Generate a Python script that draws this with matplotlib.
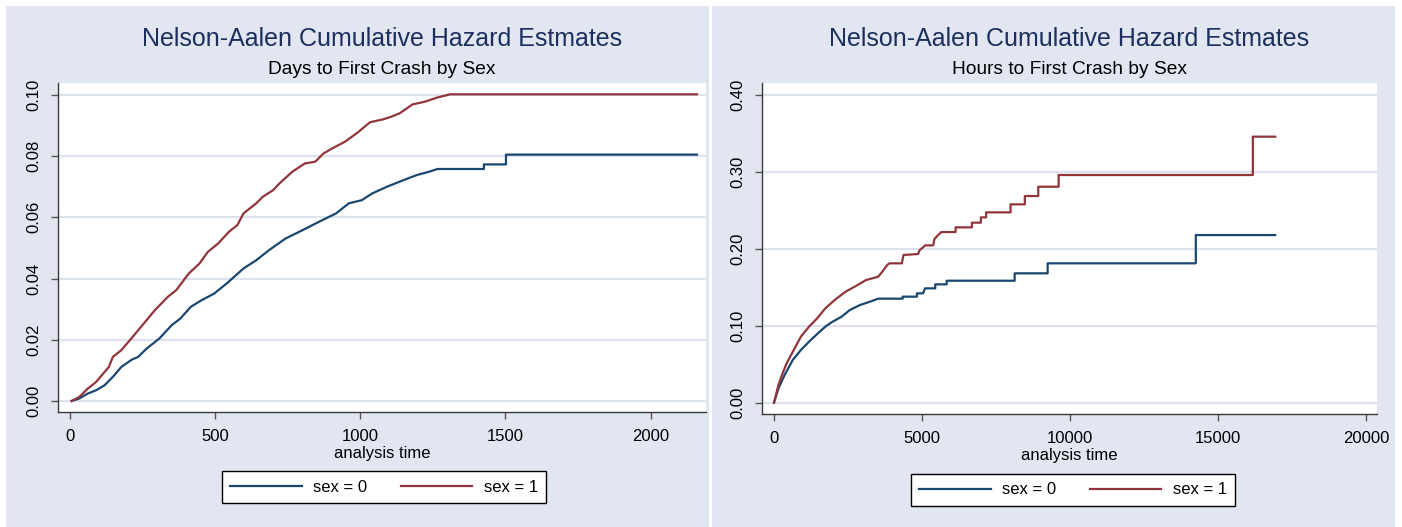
import matplotlib
matplotlib.use("Agg")
import matplotlib.pyplot as plt
from matplotlib.patches import Rectangle

plt.rcParams['font.family'] = ['Liberation Sans Narrow', 'Liberation Sans', 'DejaVu Sans']

# data (time, cumulative hazard); repeated times = step jumps
days_sex1_t = [6, 32, 61, 90, 134, 148, 177, 206, 235, 264, 293, 337, 366, 410, 446, 475,
               511, 548, 577, 598, 642, 664, 700, 722, 766, 809, 845, 874, 903, 947, 991,
               1034, 1078, 1107, 1136, 1180, 1223, 1267, 1310, 2160]
days_sex1_h = [0.0, 0.0013, 0.0040, 0.0062, 0.0111, 0.0144, 0.0166, 0.0198, 0.0231, 0.0264,
               0.0297, 0.0340, 0.0362, 0.0417, 0.0449, 0.0487, 0.0515, 0.0553, 0.0575, 0.0613,
               0.0646, 0.0667, 0.0689, 0.0711, 0.0749, 0.0776, 0.0782, 0.0809, 0.0825, 0.0847,
               0.0877, 0.0911, 0.0920, 0.0929, 0.0940, 0.0969, 0.0978, 0.0992, 0.1002, 0.1002]
days_sex0_t = [6, 32, 61, 90, 119, 148, 177, 213, 235, 264, 308, 351, 380, 417, 453, 497,
               540, 598, 642, 686, 743, 801, 859, 917, 961, 1005, 1041, 1092, 1150, 1194,
               1237, 1266, 1426, 1426, 1502, 1502, 2160]
days_sex0_h = [0.0, 0.0008, 0.0024, 0.0035, 0.0051, 0.0079, 0.0111, 0.0135, 0.0144, 0.0171,
               0.0204, 0.0248, 0.0269, 0.0308, 0.0329, 0.0351, 0.0384, 0.0433, 0.0460, 0.0493,
               0.0531, 0.0558, 0.0586, 0.0613, 0.0646, 0.0656, 0.0678, 0.0700, 0.0722, 0.0738,
               0.0749, 0.0758, 0.0758, 0.0773, 0.0773, 0.0805, 0.0805]

hours_sex1_t = [0, 151, 289, 426, 633, 908, 1183, 1458, 1733, 2077, 2421, 2765, 3109, 3521,
                3659, 3824, 3906, 4319, 4374, 4869, 4924, 5034, 5103, 5378, 5420, 5543, 5653,
                6135, 6135, 6685, 6685, 6988, 6988, 7166, 7166, 7992, 7992, 8473, 8473, 8927,
                8927, 9615, 9615, 16176, 16176, 16932]
hours_sex1_h = [0.0, 0.023, 0.038, 0.051, 0.066, 0.0857, 0.0987, 0.1095, 0.1225, 0.1342,
                0.1442, 0.1515, 0.1593, 0.1636, 0.1701, 0.1788, 0.181, 0.181, 0.1918, 0.1931,
                0.1983, 0.2017, 0.2043, 0.2043, 0.2126, 0.2177, 0.2216, 0.2216, 0.2277, 0.2277,
                0.2338, 0.2338, 0.2407, 0.2407, 0.2472, 0.2472, 0.2576, 0.2576, 0.2684, 0.2684,
                0.2805, 0.2805, 0.2957, 0.2957, 0.3455, 0.3455]
hours_sex0_t = [0, 151, 358, 633, 908, 1183, 1458, 1733, 1940, 2284, 2559, 2902, 3246, 3521,
                4347, 4347, 4828, 4828, 5034, 5103, 5447, 5447, 5832, 5832, 8129, 8129, 9244,
                9244, 14250, 14250, 16932]
hours_sex0_h = [0.0, 0.0186, 0.0359, 0.0554, 0.0684, 0.0792, 0.0892, 0.0987, 0.1043, 0.1117,
                0.1203, 0.1268, 0.1312, 0.1351, 0.1351, 0.1377, 0.1377, 0.1420, 0.1420, 0.1485,
                0.1485, 0.1537, 0.1537, 0.1584, 0.1584, 0.1680, 0.1680, 0.1810, 0.1810, 0.2177,
                0.2177]

legend_labels = ["sex = 0", "sex = 1"]

NAVY = "#1a476f"
MAROON = "#90353b"
PANEL = "#e1e6f0"
GRID = "#dce2ee"
TITLE_C = "#1c2f5e"

W, H = 1402, 527
fig = plt.figure(figsize=(W / 100, H / 100), dpi=100, facecolor="white")

# panel backgrounds
for x0, x1 in [(6, 709), (712, 1395)]:
    fig.patches.append(Rectangle((x0 / W, 0), (x1 - x0) / W, 1 - 6 / H,
                                 transform=fig.transFigure, facecolor=PANEL,
                                 edgecolor="none", zorder=-10))


def panel(rect, t0, h0, t1, h1, xlim, ylim, xticks, yticks, subtitle, legend_xy):
    ax = fig.add_axes(rect)
    ax.set_facecolor("white")
    ax.plot(t0, h0, color=NAVY, lw=1.6, label=legend_labels[0])
    ax.plot(t1, h1, color=MAROON, lw=1.6, label=legend_labels[1])
    ax.set_xlim(*xlim)
    ax.set_ylim(*ylim)
    ax.set_xticks(xticks)
    ax.set_yticks(yticks)
    ax.set_yticklabels(["%.2f" % v for v in yticks], rotation=90, va="center")
    ax.grid(axis="y", color=GRID, lw=1.6)
    ax.set_axisbelow(True)
    for s in ["top", "right"]:
        ax.spines[s].set_visible(False)
    for s in ["left", "bottom"]:
        ax.spines[s].set_color("#3a3a3a")
        ax.spines[s].set_linewidth(1.0)
    ax.tick_params(axis="both", direction="out", length=5, width=1,
                   color="#555555", labelsize=12, pad=7)
    ax.set_xlabel("analysis time", fontsize=12, labelpad=2)
    cx = rect[0] + rect[2] / 2
    fig.text(cx, 1 - 39 / H, "Nelson-Aalen Cumulative Hazard Estmates",
             ha="center", va="center", fontsize=18, color=TITLE_C)
    fig.text(cx, 1 - 70 / H, subtitle, ha="center", va="center", fontsize=13.8,
             color="black")
    leg = fig.legend(*ax.get_legend_handles_labels(), loc="center",
                     bbox_to_anchor=legend_xy, bbox_transform=fig.transFigure,
                     ncol=2, frameon=True, fancybox=False, fontsize=12,
                     handlelength=4.3, handletextpad=0.7, columnspacing=2.0,
                     borderpad=0.5, framealpha=1)
    leg.get_frame().set_facecolor("white")
    leg.get_frame().set_edgecolor("black")
    leg.get_frame().set_linewidth(1.0)
    return ax


panel([58 / W, 1 - 412 / H, (706 - 58) / W, (412 - 82.7) / H],
      days_sex0_t, days_sex0_h, days_sex1_t, days_sex1_h,
      (-41, 2191), (-0.0036, 0.104), [0, 500, 1000, 1500, 2000],
      [0.0, 0.02, 0.04, 0.06, 0.08, 0.10], "Days to First Crash by Sex",
      (384 / W, 1 - 487 / H))

panel([762 / W, 1 - 414 / H, (1377 - 762) / W, (414 - 82.7) / H],
      hours_sex0_t, hours_sex0_h, hours_sex1_t, hours_sex1_h,
      (-405, 20370), (-0.0147, 0.4156), [0, 5000, 10000, 15000, 20000],
      [0.0, 0.10, 0.20, 0.30, 0.40], "Hours to First Crash by Sex",
      (1073 / W, 1 - 490 / H))

fig.savefig("out.png", dpi=100, facecolor="white")
